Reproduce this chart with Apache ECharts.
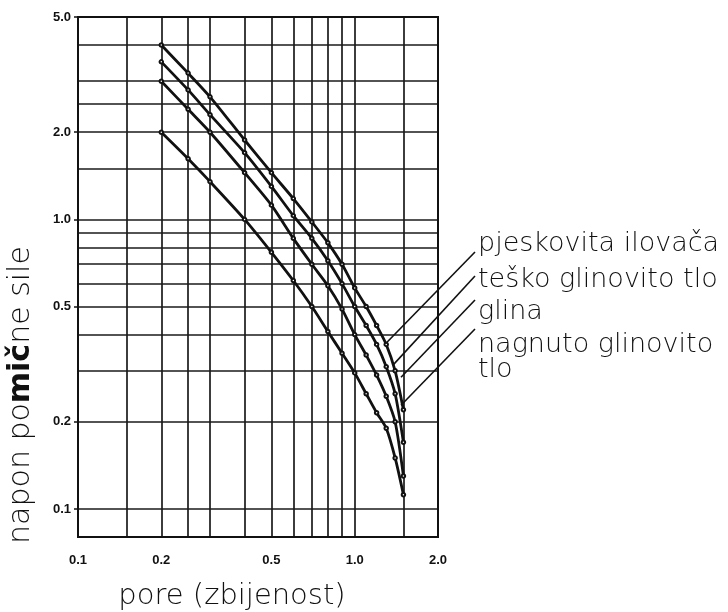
<!DOCTYPE html>
<html>
<head>
<meta charset="utf-8">
<script src="https://cdn.jsdelivr.net/npm/echarts@6/dist/echarts.min.js"></script>
<style>
  html, body { margin: 0; padding: 0; background: #fff; }
  #chart { width: 728px; height: 612px; }
</style>
</head>
<body>
<div id="chart"></div>
<script>
// Pore ratio (x) sampled along each soil curve
const pore = [0.2, 0.25, 0.3, 0.4, 0.5, 0.6, 0.7, 0.8, 0.9, 1.0, 1.1, 1.2, 1.3, 1.4, 1.5];

// Shear stress for each soil type
const pjeskovitaIlovaca   = [4.0, 3.2, 2.65, 1.88, 1.45, 1.18, 0.98, 0.83, 0.70, 0.58, 0.50, 0.43, 0.37, 0.30, 0.22];
const teskoGlinovitoTlo   = [3.5, 2.8, 2.30, 1.70, 1.30, 1.03, 0.86, 0.72, 0.60, 0.50, 0.43, 0.37, 0.31, 0.25, 0.17];
const glina               = [3.0, 2.4, 2.00, 1.45, 1.12, 0.86, 0.70, 0.59, 0.49, 0.40, 0.34, 0.29, 0.245, 0.20, 0.13];
const nagnutoGlinovitoTlo = [2.0, 1.62, 1.35, 1.00, 0.77, 0.615, 0.50, 0.41, 0.345, 0.295, 0.25, 0.215, 0.19, 0.15, 0.112];

const soilNames = ['pjeskovita ilovača', 'teško glinovito tlo', 'glina', 'nagnuto glinovito tlo'];
const soilSeries = [pjeskovitaIlovaca, teskoGlinovitoTlo, glina, nagnutoGlinovitoTlo];

// Grid lines of the log-log paper
const xGridValues = [0.1, 0.15, 0.2, 0.25, 0.3, 0.4, 0.5, 0.6, 0.7, 0.8, 0.9, 1.0, 1.5, 2.0];
const yGridValues = [0.1, 0.2, 0.3, 0.4, 0.5, 0.6, 0.7, 0.8, 0.9, 1.0, 1.5, 2.0, 2.5, 3.0, 4.0, 5.0];

// Labelled ticks
const xTickLabels = [0.1, 0.2, 0.5, 1.0, 2.0];
const yTickLabels = [0.1, 0.2, 0.5, 1.0, 2.0, 5.0];

// Leader line tips, in (pore, stress) units, one per soil label
const leaderTips = [[1.30, 0.374], [1.38, 0.315], [1.47, 0.285], [1.47, 0.228]];

const chart = echarts.init(document.getElementById('chart'), null, { renderer: 'canvas' });

const ink = '#111';
const tickFont = { fontFamily: 'Liberation Sans', fontWeight: 'bold', fontSize: 13, color: ink };

const gridLineSeries = {
  type: 'line',
  data: [],
  silent: true,
  clip: false,
  markLine: {
    silent: true,
    symbol: 'none',
    label: { show: false },
    lineStyle: { color: '#1a1a1a', width: 1.7, type: 'solid' },
    animation: false,
    data: [
      ...xGridValues.map(v => ({ xAxis: v })),
      ...yGridValues.map(v => ({ yAxis: v }))
    ]
  }
};

const curveSeries = soilSeries.map((vals, i) => ({
  name: soilNames[i],
  type: 'line',
  data: pore.map((x, k) => [x, vals[k]]),
  smooth: 0.25,
  symbol: 'emptyCircle',
  symbolSize: 3.5,
  showAllSymbol: true,
  lineStyle: { color: ink, width: 2.8 },
  itemStyle: { color: ink, borderWidth: 1 },
  z: 5
}));

chart.setOption({
  animation: false,
  backgroundColor: '#fff',
  grid: { left: 78, right: 290, top: 17, bottom: 75, containLabel: false },
  xAxis: {
    type: 'log',
    logBase: 10,
    min: 0.1,
    max: 2.0,
    axisLine: { show: true, lineStyle: { color: ink, width: 2 } },
    axisTick: { show: false },
    splitLine: { show: false },
    minorTick: { show: false },
    axisLabel: {
      customValues: xTickLabels,
      margin: 17,
      formatter: v => Number(v).toFixed(1),
      ...tickFont
    }
  },
  yAxis: {
    type: 'log',
    logBase: 10,
    min: 0.08,
    max: 5.0,
    axisLine: { show: true, lineStyle: { color: ink, width: 2 } },
    axisTick: { show: true, customValues: yTickLabels, length: 4, lineStyle: { color: ink, width: 1.5 } },
    splitLine: { show: false },
    axisLabel: {
      customValues: yTickLabels,
      margin: 7,
      formatter: v => Number(v).toFixed(1),
      ...tickFont
    }
  },
  series: [gridLineSeries, ...curveSeries]
});

// Frame, soil labels with leader lines, and axis titles
function drawAnnotations() {
  const rect = chart.getModel().getComponent('grid').coordinateSystem.getRect();
  const labelFont = '200 27px "DejaVu Sans"';
  const labelX = 478;
  const labelLines = [
    { text: 'pjeskovita ilovača', y: 244 },
    { text: 'teško glinovito tlo', y: 280 },
    { text: 'glina', y: 312 },
    { text: 'nagnuto glinovito', y: 345 },
    { text: 'tlo', y: 370 }
  ];
  const leaderStartY = [252, 276, 300, 329];

  const elements = [
    {
      type: 'rect',
      shape: { x: rect.x, y: rect.y, width: rect.width, height: rect.height },
      style: { fill: null, stroke: ink, lineWidth: 2 },
      z: 10
    }
  ];

  labelLines.forEach(l => {
    elements.push({
      type: 'text',
      x: labelX,
      y: l.y,
      style: { text: l.text, font: labelFont, fill: ink, textVerticalAlign: 'middle' },
      z: 10
    });
  });

  leaderTips.forEach((tip, i) => {
    const end = chart.convertToPixel({ gridIndex: 0 }, tip);
    elements.push({
      type: 'line',
      shape: { x1: labelX - 3, y1: leaderStartY[i], x2: end[0], y2: end[1] },
      style: { stroke: ink, lineWidth: 1.6 },
      z: 10
    });
  });

  // axis titles
  elements.push({
    type: 'text',
    x: 21,
    y: 395,
    rotation: Math.PI / 2,
    style: {
      text: '{n|napon po}{b|mič}{n|ne sile}',
      rich: {
        n: { font: '200 30px "DejaVu Sans"', fill: ink },
        b: { font: 'bold 30px "DejaVu Sans"', fill: ink }
      },
      textAlign: 'center',
      textVerticalAlign: 'middle'
    },
    z: 10
  });
  elements.push({
    type: 'text',
    x: 232,
    y: 596,
    style: {
      text: 'pore (zbijenost)',
      font: '200 29px "DejaVu Sans"',
      fill: ink,
      textAlign: 'center',
      textVerticalAlign: 'middle'
    },
    z: 10
  });

  chart.setOption({ graphic: { elements } });
}
drawAnnotations();
</script>
</body>
</html>
